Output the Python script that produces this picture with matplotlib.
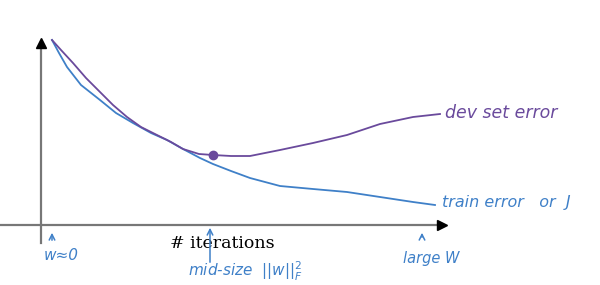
import matplotlib.pyplot as plt

# sketch units: x = iterations (from y axis), y = error (up from x axis)
train_x = [11, 18, 26, 40, 59, 75, 92, 110, 126, 142, 159, 172, 190, 209, 239, 272, 306, 339, 372, 394]
train_err = [185, 172, 158, 140, 125, 112, 102, 92, 85, 76, 67, 61, 54, 47, 39, 36, 33, 28, 23, 20]
dev_x = [11, 20, 32, 45, 59, 72, 86, 100, 116, 130, 142, 158, 172, 190, 209, 239, 272, 306, 339, 372, 399]
dev_err = [185, 175, 162, 147, 133, 120, 108, 98, 90, 83, 76, 71, 70, 69, 69, 75, 82, 90, 101, 108, 111]
early_stop = (172, 70)

purple = '#6a4a9c'
blue = '#3f80c8'

fig = plt.figure(figsize=(6.0, 2.85), dpi=100)
ax = fig.add_axes([0, 0, 1, 1])
ax.set_xlim(-41, 559)
ax.set_ylim(-60, 225)
ax.axis('off')

# axes of the sketch
ax.plot([0, 0], [-18, 182], color='#777777', lw=1.6)
ax.plot([-41, 400], [0, 0], color='#777777', lw=1.6)
ax.plot(0, 182, marker='^', color='black', ms=7)
ax.plot(401, 0, marker='>', color='black', ms=7)

ax.plot(train_x, train_err, color=blue, lw=1.3)
ax.plot(dev_x, dev_err, color=purple, lw=1.3)
ax.plot(*early_stop, marker='o', color=purple, ms=6)

hand = dict(family='DejaVu Sans', style='italic')
ax.text(404, 112, 'dev set error', color=purple, va='center', ha='left', fontsize=12.5, **hand)
ax.text(401, 23, 'train error   or  J', color=blue, va='center', ha='left', fontsize=11.5, **hand)

ax.text(181, -18, '# iterations', family='DejaVu Serif', fontsize=12.5, ha='center', va='center')

arrow = dict(arrowstyle='->', color=blue, lw=1.1)
ax.annotate('', xy=(11, -5), xytext=(11, -18), arrowprops=arrow)
ax.text(20, -30, 'w≈0', color=blue, ha='center', va='center', fontsize=11, **hand)

ax.annotate('', xy=(169, 0), xytext=(169, -40), arrowprops=arrow)
ax.text(147, -46, r'mid-size  $||w||_F^2$', color=blue, ha='left', va='center', fontsize=11, **hand)

ax.annotate('', xy=(381, -5), xytext=(381, -15), arrowprops=arrow)
ax.text(390, -33, 'large W', color=blue, ha='center', va='center', fontsize=10.5, **hand)

fig.savefig('out.png', dpi=100)
